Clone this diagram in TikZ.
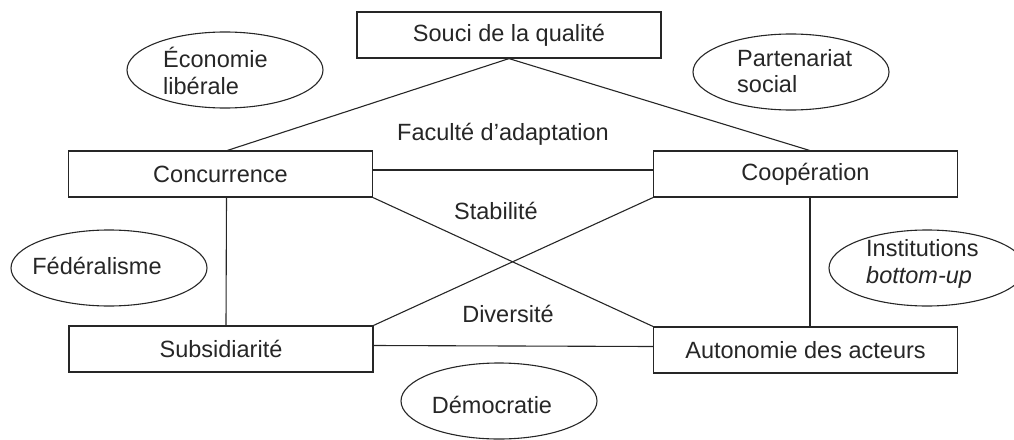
\documentclass[tikz,border=0pt]{standalone}
\usepackage{fontspec}
\setmainfont{Liberation Sans}
\usetikzlibrary{shapes.geometric}
\definecolor{ink}{HTML}{262626}
\begin{document}
\begin{tikzpicture}[x=1pt,y=-1pt,
  every node/.style={font=\fontsize{23.5}{26.5}\selectfont, text=ink},
  box/.style={draw=ink, line width=1.2pt, minimum width=304pt, minimum height=46pt, inner sep=0pt},
  oval/.style={draw=ink, line width=1.1pt, ellipse, minimum width=196pt, minimum height=76pt, inner sep=0pt},
  lbl/.style={inner sep=0pt, align=left},
  link/.style={draw=ink, line width=1.1pt}]
\useasboundingbox (0,0) rectangle (1014,439);
\clip (0,0) rectangle (1014,439);
% boxes
\node[box] (souci) at (509,35) {Souci de la qualité};
\node[box] (conc) at (220.5,174) {Concurrence};
\node[box] (coop) at (805.5,174) {Coopération};
\node[box] (subs) at (221,349) {Subsidiarité};
\node[box] (auto) at (805.5,350) {Autonomie des acteurs};
% ellipses
\node[oval] (econ) at (225,70) {};
\node[lbl, anchor=west] (econt) at (163,71) {Économie\\libérale};
\node[oval] (part) at (791,72) {};
\node[lbl, anchor=west] (partt) at (737,71) {Partenariat\\social};
\node[oval] (fed) at (109,268) {};
\node[lbl] (fedt) at (97,266) {Fédéralisme};
\node[oval] (inst) at (927,268) {};
\node[lbl, anchor=west] (instt) at (866,264) {Institutions\\\textit{bottom-up}};
\node[oval] (demo) at (499,401) {};
\node[lbl] (demot) at (492,405) {Démocratie};
% middle labels
\node[lbl] (fac) at (503,134) {Faculté d’adaptation};
\node[lbl] (stab) at (496,211) {Stabilité};
\node[lbl] (div) at (508,314) {Diversité};
% connectors
\draw[link] (souci.south) -- ([xshift=7pt]conc.north);
\draw[link] (souci.south) -- ([xshift=4pt]coop.north);
\draw[link] ([yshift=4pt]conc.east) -- ([yshift=4pt]coop.west);
\draw[link] ([yshift=3.5pt]subs.east) -- ([yshift=3.5pt]auto.west);
\draw[link] ([xshift=6pt]conc.south) -- ([xshift=5pt]subs.north);
\draw[link] ([xshift=4.5pt]coop.south) -- ([xshift=4.5pt]auto.north);
\draw[link] (conc.south east) -- (auto.north west);
\draw[link] (coop.south west) -- (subs.north east);
\end{tikzpicture}
\end{document}
